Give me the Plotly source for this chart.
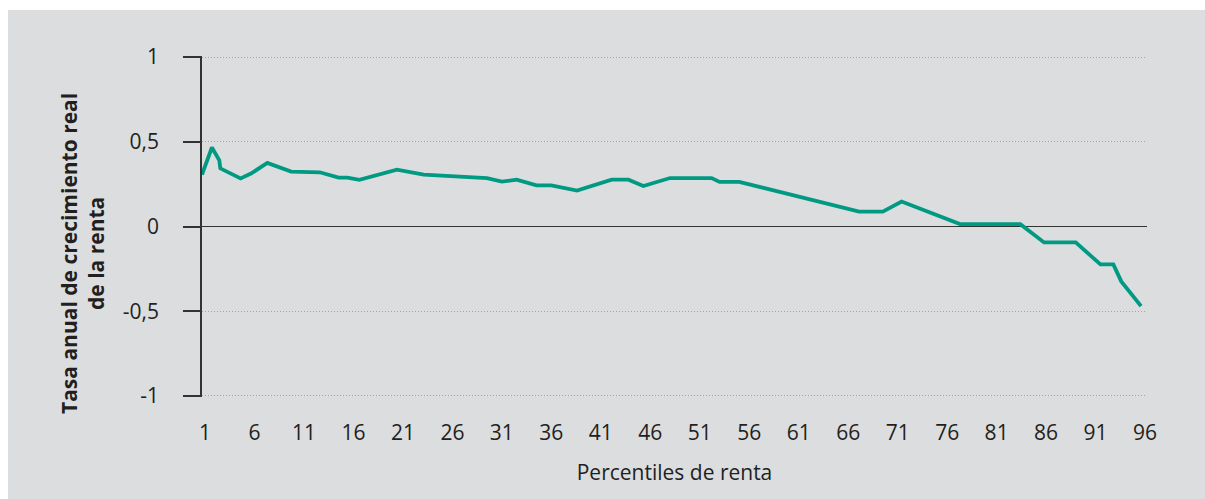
import plotly.graph_objects as go

# Data
percentil = [1, 2, 2.75, 2.85, 4.9, 6.0, 7.6, 10.0, 12.9, 14.8, 15.7, 16.9, 20.7, 23.4,
             29.8, 31.3, 32.8, 34.8, 36.3, 38.9, 42.4, 44.1, 45.6, 48.3, 52.5, 53.3,
             55.3, 67.4, 69.8, 71.7, 77.6, 83.7, 86.1, 89.3, 91.8, 93.1, 93.9, 95.9]
tasa = [0.306, 0.466, 0.39, 0.343, 0.284, 0.314, 0.375, 0.324, 0.32, 0.288, 0.288, 0.275,
        0.335, 0.306, 0.286, 0.265, 0.276, 0.243, 0.243, 0.212, 0.276, 0.276, 0.239,
        0.286, 0.286, 0.263, 0.263, 0.088, 0.088, 0.147, 0.014, 0.014, -0.094, -0.094,
        -0.224, -0.224, -0.324, -0.47]

x_ticks = list(range(1, 97, 5))
x_ticklabels = [str(v) for v in x_ticks]
y_ticks = [-1, -0.5, 0, 0.5, 1]
y_ticklabels = ["-1", "-0,5", "0", "0,5", "1"]

FONT = "Open Sans"
BG = "#dcdddf"
TEAL = "#009a82"
TXT = "#231f20"

W, H = 1205, 499
L, R, T, B = 202, 58, 56, 102
pw, ph = W - L - R, H - T - B

fig = go.Figure()
fig.add_trace(go.Scatter(x=percentil, y=tasa, mode="lines",
                         line=dict(color=TEAL, width=3.8), hoverinfo="skip",
                         showlegend=False))

fig.add_shape(type="rect", xref="paper", yref="paper", layer="below",
              x0=(8 - L) / pw, x1=(W + 5 - L) / pw,
              y0=(H - B - H - 5) / ph, y1=(H - B - 10) / ph,
              fillcolor=BG, line=dict(width=0))

fig.add_annotation(text="<b>Tasa anual de crecimiento real<br>de la renta</b>",
                   xref="paper", yref="paper", x=(83 - L) / pw, y=(H - B - 254) / ph,
                   textangle=-90, showarrow=False, xanchor="center", yanchor="middle",
                   font=dict(family=FONT, size=21, color=TXT))

fig.update_layout(
    width=W, height=H,
    margin=dict(l=L, r=R, t=T, b=B, autoexpand=False),
    paper_bgcolor="white", plot_bgcolor="rgba(0,0,0,0)",
    font=dict(family=FONT, size=21, color=TXT),
    xaxis=dict(range=[1, 96.5], tickmode="array", tickvals=x_ticks, ticktext=x_ticklabels,
               showgrid=False, zeroline=False, showline=False, ticks="",
               ticklabelstandoff=21, ticklabelshift=3,
               title=dict(text="Percentiles de renta", standoff=20,
                          font=dict(family=FONT, size=21, color=TXT))),
    yaxis=dict(range=[-1.006, 1.006], tickmode="array", tickvals=y_ticks, ticktext=y_ticklabels,
               showgrid=True, gridcolor="#a3a3a3", griddash="1px,2px", gridwidth=1,
               zeroline=True, zerolinecolor="#333333", zerolinewidth=1.3,
               showline=True, linecolor="#333333", linewidth=1.5,
               ticks="outside", ticklen=17, tickcolor="#333333", tickwidth=1.5,
               ticklabelstandoff=20),
)

fig.write_html("out.html", config={"displayModeBar": False},
               post_script="document.body.style.margin='0';")
